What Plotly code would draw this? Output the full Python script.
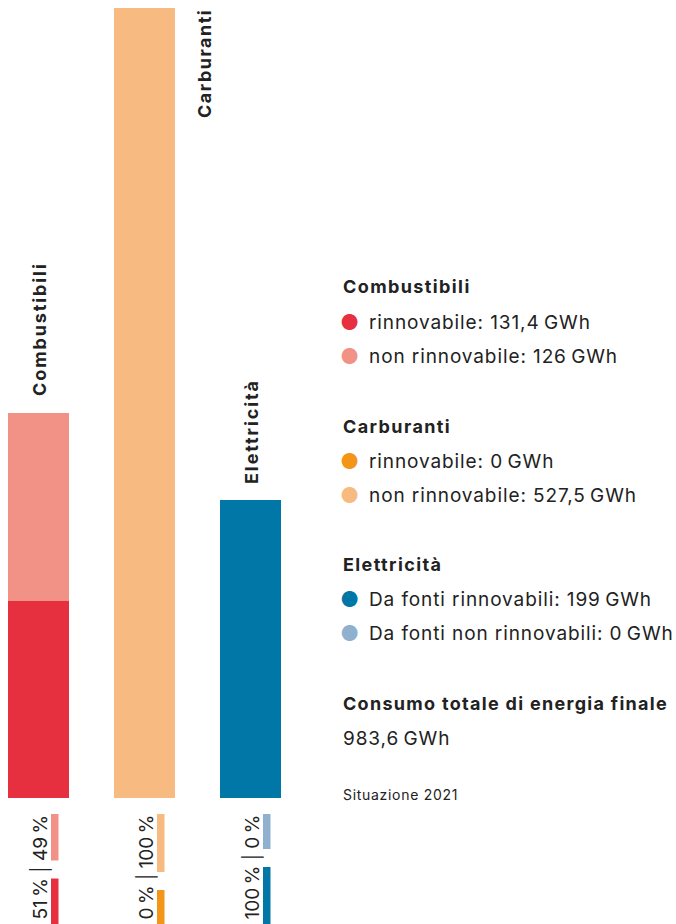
import plotly.graph_objects as go

# ---------------- data ----------------
categories = ["Combustibili", "Carburanti", "Elettricità"]
renewable = [131.4, 0.0, 199.0]
non_renewable = [126.0, 527.5, 0.0]
legend_ren_labels = ["rinnovabile", "rinnovabile", "Da fonti rinnovabili"]
legend_non_labels = ["non rinnovabile", "non rinnovabile", "Da fonti non rinnovabili"]
total_label = "Consumo totale di energia finale"
total_value = 983.6
source_note = "Situazione 2021"

# ---------------- styles ----------------
col_ren = ["#e6303f", "#f39519", "#0077a7"]
col_non = ["#f29185", "#f7ba80", "#8fb0cf"]
FONT = "Inter, 'Noto Sans', sans-serif"
TXT = "#222222"
W, H = 676, 924
PX_PER_CAT = 106.0


def fy(p):
    """pixel row -> paper y"""
    return 1 - p / H


def fx(p):
    """pixel column -> paper x"""
    return p / W


def sp(s, ls):
    return f"<span style='letter-spacing:{ls}px'>{s}</span>"


def fmt(v):
    s = f"{v:.1f}".rstrip("0").rstrip(".")
    return s.replace(".", ",")


x = list(range(len(categories)))
fig = go.Figure()
fig.add_trace(go.Bar(x=x, y=renewable, marker=dict(color=col_ren, line=dict(width=0)),
                     width=0.575, hoverinfo="skip", showlegend=False))
fig.add_trace(go.Bar(x=x, y=non_renewable, marker=dict(color=col_non, line=dict(width=0)),
                     width=0.575, hoverinfo="skip", showlegend=False))

totals = [r + n for r, n in zip(renewable, non_renewable)]
annotations = []
shapes = []

# category labels (rotated)
for i, (c, t) in enumerate(zip(categories, totals)):
    if t == max(totals):
        annotations.append(dict(x=i, y=t, xref="x", yref="y", text=f"<b>{sp(c, 1.5)}</b>",
                                textangle=-90, showarrow=False, xanchor="center", yanchor="top",
                                xshift=60, yshift=1,
                                font=dict(family=FONT, size=18, color=TXT)))
    else:
        annotations.append(dict(x=i, y=t, xref="x", yref="y", text=f"<b>{sp(c, 1.9)}</b>",
                                textangle=-90, showarrow=False, xanchor="center", yanchor="bottom",
                                xshift=1, yshift=14,
                                font=dict(family=FONT, size=18, color=TXT)))

# percentages under bars
TOP_PX = 814
GAP = 18


def seg_len(s):
    digits = sum(ch.isdigit() for ch in s)
    return 11.5 * digits + 23.5


for i, (r, n, t) in enumerate(zip(renewable, non_renewable, totals)):
    pr = round(r / t * 100)
    pn = round(n / t * 100)
    s_r = f"{pr}\u2009%"
    s_n = f"{pn}\u2009%"
    annotations.append(dict(x=i, y=fy(TOP_PX), xref="x", yref="paper",
                            text=f"{s_r} | {s_n}", textangle=-90, showarrow=False,
                            xanchor="center", yanchor="top", xshift=1.5, yshift=1,
                            font=dict(family=FONT, size=19, color=TXT)))
    ln = seg_len(s_n)
    lr = seg_len(s_r)
    x0 = i + 12.5 / PX_PER_CAT
    x1 = i + 20 / PX_PER_CAT
    shapes.append(dict(type="rect", xref="x", yref="paper", x0=x0, x1=x1,
                       y0=fy(TOP_PX), y1=fy(TOP_PX + ln), fillcolor=col_non[i],
                       line=dict(width=0), layer="above"))
    shapes.append(dict(type="rect", xref="x", yref="paper", x0=x0, x1=x1,
                       y0=fy(TOP_PX + ln + GAP), y1=fy(TOP_PX + ln + GAP + lr + 4),
                       fillcolor=col_ren[i], line=dict(width=0), layer="above"))

# legend block (right)
X_HEAD = fx(341)
X_DOT = fx(349)
X_TEXT = fx(367)
header_rows = [287, 426, 564]
for i, c in enumerate(categories):
    hy = header_rows[i]
    annotations.append(dict(x=X_HEAD, y=fy(hy), xref="paper", yref="paper",
                            text=f"<b>{sp(c, 1.4)}</b>", showarrow=False, xanchor="left", yanchor="middle",
                            font=dict(family=FONT, size=18, color=TXT)))
    for k, (lab, val, col) in enumerate([(legend_ren_labels[i], renewable[i], col_ren[i]),
                                         (legend_non_labels[i], non_renewable[i], col_non[i])]):
        yy = hy + 35 + 34.5 * k
        annotations.append(dict(x=X_DOT, y=fy(yy), xref="paper", yref="paper",
                                text="●", showarrow=False, xanchor="center", yanchor="middle",
                                font=dict(family=FONT, size=21, color=col)))
        annotations.append(dict(x=X_TEXT, y=fy(yy), xref="paper", yref="paper",
                                text=sp(f"{lab}: {fmt(val)}\u2009GWh", 0.9),
                                showarrow=False, xanchor="left", yanchor="middle",
                                font=dict(family=FONT, size=19, color=TXT)))

annotations.append(dict(x=X_HEAD, y=fy(703), xref="paper", yref="paper",
                        text=f"<b>{sp(total_label, 1.3)}</b>", showarrow=False, xanchor="left", yanchor="middle",
                        font=dict(family=FONT, size=18, color=TXT)))
annotations.append(dict(x=X_HEAD, y=fy(738), xref="paper", yref="paper",
                        text=sp(f"{fmt(total_value)}\u2009GWh", 0.9), showarrow=False, xanchor="left", yanchor="middle",
                        font=dict(family=FONT, size=19, color=TXT)))
annotations.append(dict(x=X_HEAD, y=fy(794), xref="paper", yref="paper",
                        text=sp(source_note, 0.7), showarrow=False, xanchor="left", yanchor="middle",
                        font=dict(family=FONT, size=14, color=TXT)))

x_lo = -38.5 / PX_PER_CAT
x_hi = x_lo + 338 / PX_PER_CAT
top_px, bottom_px = 8, 798
fig.update_layout(
    width=W, height=H,
    margin=dict(l=0, r=0, t=0, b=0),
    paper_bgcolor="white", plot_bgcolor="white",
    barmode="stack", bargap=0,
    xaxis=dict(domain=[0, 0.5], range=[x_lo, x_hi], visible=False, fixedrange=True),
    yaxis=dict(domain=[1 - bottom_px / H, 1 - top_px / H], range=[0, max(totals)],
               visible=False, fixedrange=True),
    annotations=annotations,
    shapes=shapes,
    showlegend=False,
)

fig.write_html("out.html", config={"displayModeBar": False},
               post_script="document.body.style.margin='0px';")
